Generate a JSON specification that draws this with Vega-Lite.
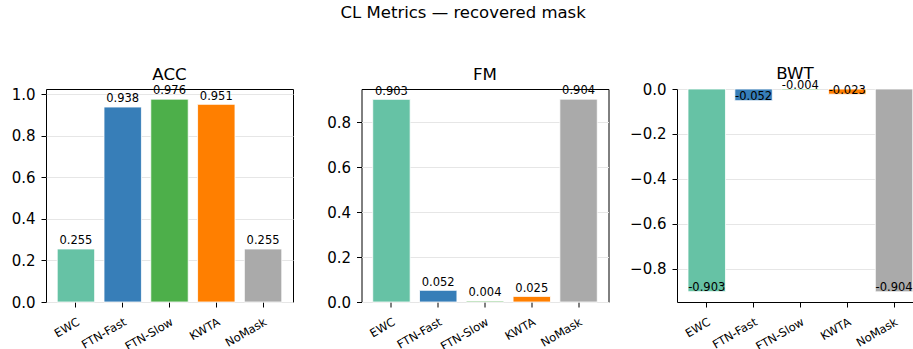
{
  "$schema": "https://vega.github.io/schema/vega-lite/v6.json",
  "padding": {"left": 10, "top": 4, "right": 0, "bottom": 0},
  "title": {"text": "CL Metrics — recovered mask", "fontSize": 16.5, "fontWeight": "normal", "font": "DejaVu Sans", "color": "black", "anchor": "middle", "dx": 1, "offset": 44},
  "bounds": "flush",
  "spacing": 68.5,
  "data": {"values": [
    {"metric": "ACC", "method": "EWC", "value": 0.255, "label": "0.255"},
    {"metric": "ACC", "method": "FTN-Fast", "value": 0.938, "label": "0.938"},
    {"metric": "ACC", "method": "FTN-Slow", "value": 0.976, "label": "0.976"},
    {"metric": "ACC", "method": "KWTA", "value": 0.951, "label": "0.951"},
    {"metric": "ACC", "method": "NoMask", "value": 0.255, "label": "0.255"},
    {"metric": "FM", "method": "EWC", "value": 0.903, "label": "0.903"},
    {"metric": "FM", "method": "FTN-Fast", "value": 0.052, "label": "0.052"},
    {"metric": "FM", "method": "FTN-Slow", "value": 0.004, "label": "0.004"},
    {"metric": "FM", "method": "KWTA", "value": 0.025, "label": "0.025"},
    {"metric": "FM", "method": "NoMask", "value": 0.904, "label": "0.904"},
    {"metric": "BWT", "method": "EWC", "value": -0.903, "label": "-0.903"},
    {"metric": "BWT", "method": "FTN-Fast", "value": -0.052, "label": "-0.052"},
    {"metric": "BWT", "method": "FTN-Slow", "value": -0.004, "label": "-0.004"},
    {"metric": "BWT", "method": "KWTA", "value": -0.023, "label": "-0.023"},
    {"metric": "BWT", "method": "NoMask", "value": -0.904, "label": "-0.904"}
  ]},
  "config": {
    "font": "DejaVu Sans",
    "view": {"stroke": "black", "strokeWidth": 1},
    "axis": {"domain": false, "tickColor": "black", "tickSize": 5, "tickWidth": 1, "labelColor": "black", "labelFont": "DejaVu Sans", "labelPadding": 6, "title": null},
    "axisY": {"labelFontSize": 15, "gridColor": "#e6e6e6", "gridWidth": 1},
    "axisX": {"labelFontSize": 11.5, "grid": false, "labelAngle": -30, "labelAlign": "right", "labelBaseline": "top", "labelPadding": 9},
    "title": {"fontSize": 16.7, "fontWeight": "normal", "color": "black", "font": "DejaVu Sans", "baseline": "alphabetic"}
  },
  "hconcat": [
    {
      "width": 247, "height": 213,
      "title": {"text": "ACC", "offset": 2},
      "transform": [{"filter": "datum.metric === 'ACC'"}],
      "layer": [
        {"mark": {"type": "bar", "stroke": "white", "strokeWidth": 0.8},
         "encoding": {
           "x": {"field": "method", "type": "nominal", "sort": ["EWC", "FTN-Fast", "FTN-Slow", "KWTA", "NoMask"], "scale": {"paddingInner": 0.2, "paddingOuter": 0.24, "round": false}},
           "y": {"field": "value", "type": "quantitative", "scale": {"domain": [0, 1.0248], "nice": false, "zero": false}, "axis": {"values": [0, 0.2, 0.4, 0.6, 0.8, 1.0], "format": ".1f"}},
           "color": {"field": "method", "type": "nominal", "scale": {"domain": ["EWC", "FTN-Fast", "FTN-Slow", "KWTA", "NoMask"], "range": ["#66c2a5", "#377eb8", "#4daf4a", "#ff7f00", "#aaaaaa"]}, "legend": null}
         }},
        {"mark": {"type": "text", "baseline": "alphabetic", "dy": -4.7, "fontSize": 11.5, "color": "black"},
         "encoding": {
           "x": {"field": "method", "type": "nominal", "sort": ["EWC", "FTN-Fast", "FTN-Slow", "KWTA", "NoMask"]},
           "y": {"field": "value", "type": "quantitative"},
           "text": {"field": "label", "type": "nominal"}
         }}
      ]
    },
    {
      "width": 247, "height": 213,
      "title": {"text": "FM", "offset": 2},
      "transform": [{"filter": "datum.metric === 'FM'"}],
      "layer": [
        {"mark": {"type": "bar", "stroke": "white", "strokeWidth": 0.8},
         "encoding": {
           "x": {"field": "method", "type": "nominal", "sort": ["EWC", "FTN-Fast", "FTN-Slow", "KWTA", "NoMask"], "scale": {"paddingInner": 0.2, "paddingOuter": 0.24, "round": false}},
           "y": {"field": "value", "type": "quantitative", "scale": {"domain": [0, 0.9492], "nice": false, "zero": false}, "axis": {"values": [0, 0.2, 0.4, 0.6, 0.8], "format": ".1f"}},
           "color": {"field": "method", "type": "nominal", "scale": {"domain": ["EWC", "FTN-Fast", "FTN-Slow", "KWTA", "NoMask"], "range": ["#66c2a5", "#377eb8", "#4daf4a", "#ff7f00", "#aaaaaa"]}, "legend": null}
         }},
        {"mark": {"type": "text", "baseline": "alphabetic", "dy": -4.7, "fontSize": 11.5, "color": "black"},
         "encoding": {
           "x": {"field": "method", "type": "nominal", "sort": ["EWC", "FTN-Fast", "FTN-Slow", "KWTA", "NoMask"]},
           "y": {"field": "value", "type": "quantitative"},
           "text": {"field": "label", "type": "nominal"}
         }}
      ]
    },
    {
      "width": 236, "height": 213,
      "title": {"text": "BWT", "offset": -2},
      "transform": [{"filter": "datum.metric === 'BWT'"}],
      "layer": [
        {"mark": {"type": "bar", "stroke": "white", "strokeWidth": 0.8},
         "encoding": {
           "x": {"field": "method", "type": "nominal", "sort": ["EWC", "FTN-Fast", "FTN-Slow", "KWTA", "NoMask"], "scale": {"paddingInner": 0.2, "paddingOuter": 0.12, "align": 0.98, "round": false}},
           "y": {"field": "value", "type": "quantitative", "scale": {"domain": [-0.9492, 0], "nice": false, "zero": false}, "axis": {"values": [-0.8, -0.6, -0.4, -0.2, 0], "format": ".1f"}},
           "color": {"field": "method", "type": "nominal", "scale": {"domain": ["EWC", "FTN-Fast", "FTN-Slow", "KWTA", "NoMask"], "range": ["#66c2a5", "#377eb8", "#4daf4a", "#ff7f00", "#aaaaaa"]}, "legend": null}
         }},
        {"mark": {"type": "text", "baseline": "alphabetic", "dy": -0.4, "fontSize": 11.5, "color": "black"},
         "encoding": {
           "x": {"field": "method", "type": "nominal", "sort": ["EWC", "FTN-Fast", "FTN-Slow", "KWTA", "NoMask"]},
           "y": {"field": "value", "type": "quantitative"},
           "text": {"field": "label", "type": "nominal"}
         }}
      ]
    }
  ]
}
